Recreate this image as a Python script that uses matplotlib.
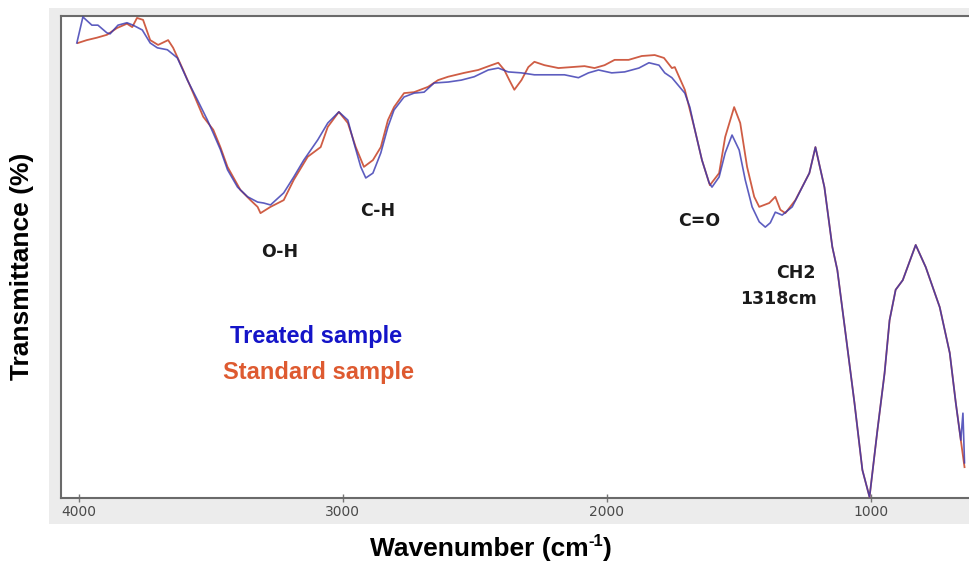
"""
FTIR spectrum of treated vs standard sample.
"""

import matplotlib

matplotlib.use("Agg")
import matplotlib.pyplot as plt
from matplotlib.patches import Rectangle

# Treated sample (blue)
treated_wn = [4008, 3985, 3951, 3928, 3894, 3882, 3852, 3818, 3795, 3760,
              3730, 3703, 3665, 3627, 3589, 3551, 3513, 3491, 3464, 3437,
              3399, 3361, 3323, 3300, 3274, 3224, 3186, 3148, 3095, 3057,
              3015, 2981, 2958, 2932, 2913, 2886, 2856, 2829, 2806, 2768,
              2730, 2692, 2654, 2601, 2551, 2502, 2449, 2411, 2373, 2323,
              2274, 2221, 2160, 2107, 2069, 2031, 1981, 1932, 1878, 1840,
              1802, 1780, 1753, 1704, 1685, 1666, 1639, 1612, 1601, 1574,
              1551, 1525, 1498, 1475, 1449, 1422, 1399, 1380, 1361, 1335,
              1297, 1259, 1232, 1209, 1175, 1145, 1126, 1095, 1061, 1031,
              1004, 974, 947, 928, 905, 878, 829, 791, 738, 700,
              677, 658, 650, 644]
treated_t = [94.4, 99.8, 98.1, 98.1, 96.5, 96.3, 98.1, 98.6, 98.1, 97.1,
             94.4, 93.4, 93.0, 91.3, 86.7, 82.6, 78.4, 75.7, 72.3, 68.1,
             64.5, 62.5, 61.4, 61.2, 60.8, 63.3, 66.6, 70.1, 74.3, 77.8,
             80.1, 78.4, 73.7, 68.7, 66.4, 67.4, 71.6, 77.0, 80.5, 83.2,
             84.0, 84.2, 86.1, 86.3, 86.7, 87.4, 88.8, 89.2, 88.4, 88.2,
             87.8, 87.8, 87.8, 87.2, 88.2, 88.8, 88.2, 88.4, 89.2, 90.3,
             89.8, 88.2, 87.2, 84.0, 81.1, 76.4, 70.1, 65.4, 64.5, 66.6,
             71.6, 75.3, 72.2, 66.0, 60.4, 57.3, 56.2, 57.1, 59.3, 58.7,
             60.4, 64.5, 67.4, 72.8, 64.5, 52.1, 47.3, 34.2, 19.7, 5.8,
             0.2, 14.1, 25.9, 36.9, 43.2, 45.2, 52.5, 47.9, 39.6, 30.1,
             19.7, 12.0, 17.6, 7.3]

# Standard sample (red)
standard_wn = [4004, 3970, 3932, 3894, 3856, 3818, 3798, 3780, 3757, 3730,
               3700, 3662, 3643, 3605, 3567, 3529, 3491, 3464, 3437, 3388,
               3350, 3323, 3312, 3274, 3224, 3186, 3133, 3084, 3057, 3015,
               2981, 2951, 2920, 2886, 2856, 2829, 2806, 2768, 2730, 2677,
               2639, 2601, 2540, 2487, 2437, 2411, 2388, 2369, 2350, 2323,
               2297, 2274, 2236, 2183, 2133, 2084, 2046, 2008, 1970, 1917,
               1867, 1818, 1783, 1753, 1742, 1704, 1666, 1639, 1609, 1574,
               1551, 1517, 1494, 1468, 1441, 1422, 1384, 1361, 1342, 1323,
               1285, 1232, 1209, 1175, 1145, 1126, 1095, 1061, 1031, 1004,
               974, 947, 928, 905, 878, 829, 791, 738, 700, 677,
               658, 644]
standard_t = [94.4, 95.0, 95.5, 96.1, 97.5, 98.4, 97.7, 99.6, 99.2, 95.0,
              94.0, 95.0, 93.4, 88.8, 84.0, 79.1, 76.4, 72.8, 68.7, 63.9,
              61.8, 60.4, 59.1, 60.4, 61.8, 66.0, 70.8, 72.8, 77.0, 80.1,
              77.8, 72.8, 68.7, 70.1, 72.8, 78.4, 81.1, 84.0, 84.2, 85.3,
              86.7, 87.4, 88.2, 88.8, 89.8, 90.3, 88.8, 86.7, 84.7, 86.7,
              89.4, 90.5, 89.8, 89.2, 89.4, 89.6, 89.2, 89.8, 90.9, 90.9,
              91.7, 91.9, 91.3, 89.2, 89.4, 84.7, 76.4, 70.1, 64.9, 67.4,
              74.9, 81.1, 77.8, 68.7, 62.5, 60.4, 61.2, 62.5, 59.8, 59.1,
              61.8, 67.4, 72.8, 64.5, 52.1, 47.3, 34.2, 19.7, 5.8, 0.2,
              14.1, 25.9, 36.9, 43.2, 45.2, 52.5, 47.9, 39.6, 30.1, 19.7,
              12.0, 6.4]

xticks = [4000, 3000, 2000, 1000]

# band labels: (text, wavenumber, transmittance)
band_labels = [("O-H", 3240, 51.0),
               ("C-H", 2867, 59.6),
               ("C=O", 1650, 57.5),
               ("CH2", 1282, 46.7),
               ("1318cm", 1350, 41.3)]

W, H = 969, 561
fig = plt.figure(figsize=(W / 100, H / 100), dpi=100)

# light grey window around the plot area
fig.patches.append(Rectangle((49 / W, 1 - 524 / H), (W - 49) / W, (524 - 8) / H,
                             transform=fig.transFigure, facecolor="#ececec",
                             edgecolor="none", zorder=-5))

ax = fig.add_axes([61 / W, 1 - 498 / H, 1 - 61 / W + 0.003, (498 - 16) / H])
ax.set_zorder(2)
ax.set_facecolor("white")

ax.plot(standard_wn, standard_t, color="#cf5d45", linewidth=1.3, zorder=3)
ax.plot(treated_wn, treated_t, color="#3535b0", linewidth=1.2, alpha=0.8, zorder=4)

ax.set_xlim(4068, 616)
ax.set_ylim(0, 100)
ax.set_xticks(xticks)
ax.set_xticklabels([str(t) for t in xticks])
ax.set_yticks([])
ax.tick_params(axis="x", direction="inout", length=6, width=1, color="#777777",
               labelsize=10, labelcolor="#4a4a4a", pad=2)

for side in ["left", "bottom", "top", "right"]:
    ax.spines[side].set_color("#6a6a6a")
    ax.spines[side].set_linewidth(1.5)

for text, wn, t in band_labels:
    ax.text(wn, t, text, ha="center", va="center", fontsize=12.5,
            fontweight="bold", color="#1a1a1a", zorder=5)

ax.text(315 / W * W / (W - 61) - 61 / (W - 61), 1 - (336 - 16) / 482,
        "Treated sample", transform=ax.transAxes, ha="center",
        va="center", fontsize=17, fontweight="bold", color="#1414c8",
        family="Liberation Sans")
ax.text(318 / (W - 61) - 61 / (W - 61), 1 - (372 - 16) / 482,
        "Standard sample", transform=ax.transAxes, ha="center",
        va="center", fontsize=17, fontweight="bold", color="#de5a30",
        family="Liberation Sans")

fig.text(22 / W, 1 - 266 / H, "Transmittance (%)", rotation=90, ha="center",
         va="center", fontsize=19, fontweight="bold", family="Liberation Sans")

# x label with a plain hyphen in the superscript
xl = fig.text(370 / W, 1 - 556 / H, "Wavenumber (cm", ha="left",
              va="baseline", fontsize=19, fontweight="bold",
              family="Liberation Sans")
sup = plt.annotate("-1", xy=(1, 0.62), xycoords=xl, ha="left", va="baseline",
                   fontsize=12, fontweight="bold", family="Liberation Sans",
                   annotation_clip=False)
plt.annotate(")", xy=(1, 0), xycoords=(sup, xl), ha="left", va="bottom",
             fontsize=19, fontweight="bold", family="Liberation Sans",
             annotation_clip=False)

fig.savefig("out.png", dpi=100)
